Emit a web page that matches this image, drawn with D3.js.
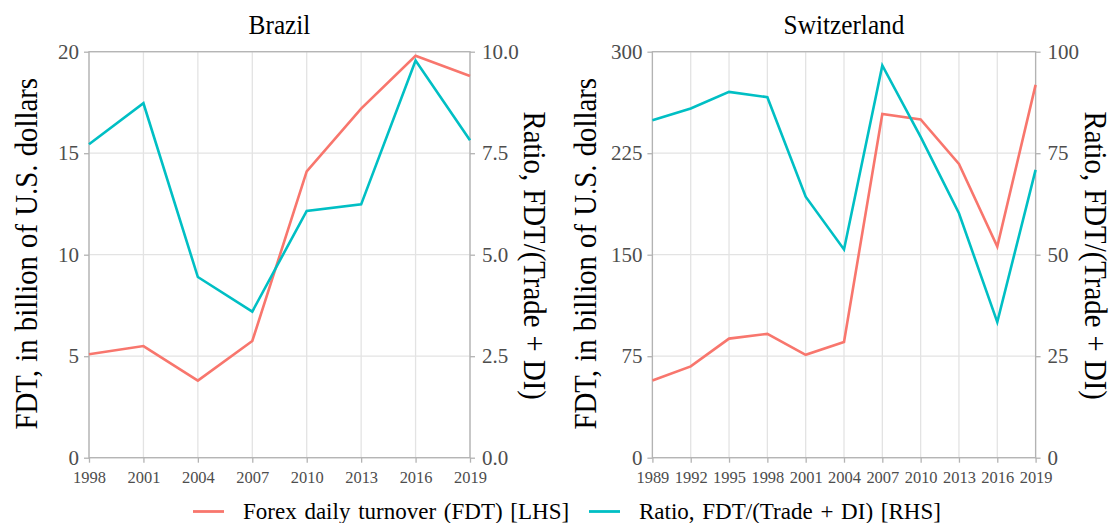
<!DOCTYPE html>
<html><head><meta charset="utf-8">
<script src="https://cdn.jsdelivr.net/npm/d3@7"></script>
<style>
body{margin:0;background:#fff;}
text{font-family:"Liberation Serif","DejaVu Serif",serif;}
</style></head>
<body><svg id="chart" width="1113" height="523"></svg>
<script>
// ---- data ----
const brazilYears = [1998, 2001, 2004, 2007, 2010, 2013, 2016, 2019];
const brazilFDT   = [5.1, 5.5, 3.8, 5.75, 14.1, 17.2, 19.8, 18.8];
const brazilRatio = [7.72, 8.73, 4.45, 3.6, 6.08, 6.24, 9.78, 7.82];
const swissYears  = [1989, 1992, 1995, 1998, 2001, 2004, 2007, 2010, 2013, 2016, 2019];
const swissFDT    = [57, 67.5, 88, 91.5, 76, 85.5, 254, 250, 217, 156, 275.5];
const swissRatio  = [83.1, 86, 90.1, 88.8, 64.3, 51.3, 96.6, 79, 60.2, 33.4, 70.9];
const brazilLeftTicks  = [0, 5, 10, 15, 20];
const brazilRightTicks = [0, 2.5, 5, 7.5, 10];
const swissLeftTicks   = [0, 75, 150, 225, 300];
const swissRightTicks  = [0, 25, 50, 75, 100];
const seriesNames = ["Forex daily turnover (FDT) [LHS]", "Ratio, FDT/(Trade + DI) [RHS]"];
const colors = ["#F8766D", "#00BFC4"];
const leftTitle = "FDT, in billion of U.S. dollars";
const rightTitle = "Ratio, FDT/(Trade + DI)";

const svg = d3.select("#chart");
const plotTop = 51.7, plotBottom = 457.7;
const FONT = '"Liberation Serif", serif';

function panel(o){
  const g = svg.append("g");
  const x = d3.scaleLinear().domain([o.years[0], o.years[o.years.length-1]]).range([o.left, o.right]);
  const yL = d3.scaleLinear().domain([0, o.leftTicks[o.leftTicks.length-1]]).range([plotBottom, plotTop]);
  const yR = d3.scaleLinear().domain([0, o.rightTicks[o.rightTicks.length-1]]).range([plotBottom, plotTop]);
  // grid
  g.append("g").selectAll("line").data(o.years).join("line")
    .attr("x1", d=>x(d)).attr("x2", d=>x(d)).attr("y1", plotTop).attr("y2", plotBottom)
    .attr("stroke", "#e3e3e3").attr("stroke-width", 1.3);
  g.append("g").selectAll("line").data(o.leftTicks).join("line")
    .attr("x1", o.left).attr("x2", o.right).attr("y1", d=>yL(d)).attr("y2", d=>yL(d))
    .attr("stroke", "#e3e3e3").attr("stroke-width", 1.3);
  // border
  g.append("rect").attr("x", o.left).attr("y", plotTop).attr("width", o.right-o.left).attr("height", plotBottom-plotTop)
    .attr("fill", "none").attr("stroke", "#b3b3b3").attr("stroke-width", 1.3);
  // axes
  const ax = g.append("g").attr("transform", `translate(0,${plotBottom})`)
    .call(d3.axisBottom(x).tickValues(o.years).tickFormat(d3.format("d")).tickSize(5).tickPadding(8));
  ax.selectAll("text").attr("font-size", 17.5).attr("fill", "#4d4d4d").style("font-family", FONT)
    .attr("transform", "scale(0.94,1)");
  const al = g.append("g").attr("transform", `translate(${o.left},0)`)
    .call(d3.axisLeft(yL).tickValues(o.leftTicks).tickFormat(o.leftFmt).tickSize(5).tickPadding(5));
  al.selectAll("text").attr("font-size", 21).attr("fill", "#4d4d4d").style("font-family", FONT);
  const ar = g.append("g").attr("transform", `translate(${o.right},0)`)
    .call(d3.axisRight(yR).tickValues(o.rightTicks).tickFormat(o.rightFmt).tickSize(5).tickPadding(7));
  ar.selectAll("text").attr("font-size", 21).attr("fill", "#4d4d4d").style("font-family", FONT);
  [ax, al, ar].forEach(a=>{ a.select(".domain").remove(); a.selectAll(".tick line").attr("stroke", "#b3b3b3").attr("stroke-width", 1.3); });
  // lines
  const lineL = d3.line().x((d,i)=>x(o.years[i])).y(d=>yL(d));
  const lineR = d3.line().x((d,i)=>x(o.years[i])).y(d=>yR(d));
  g.append("path").datum(o.fdt).attr("d", lineL).attr("fill", "none").attr("stroke", colors[0]).attr("stroke-width", 2.6);
  g.append("path").datum(o.ratio).attr("d", lineR).attr("fill", "none").attr("stroke", colors[1]).attr("stroke-width", 2.6);
  // titles
  g.append("text").attr("transform", `translate(${(o.left+o.right)/2},33.5) scale(0.92,1)`).attr("text-anchor", "middle")
    .attr("font-size", 27.5).attr("fill", "#000").text(o.title);
  g.append("text").attr("transform", `translate(${o.lt},${(plotTop+plotBottom)/2-1}) rotate(-90) scale(0.93,1)`).attr("text-anchor", "middle")
    .attr("font-size", 31).attr("fill", "#000").style("word-spacing", "1px").text(leftTitle);
  g.append("text").attr("transform", `translate(${o.rt},${(plotTop+plotBottom)/2+1}) rotate(90) scale(0.93,1)`).attr("text-anchor", "middle")
    .attr("font-size", 31).attr("fill", "#000").style("word-spacing", "1px").text(rightTitle);
}

panel({title:"Brazil", years:brazilYears, fdt:brazilFDT, ratio:brazilRatio, left:89, right:470,
  leftTicks:brazilLeftTicks, rightTicks:brazilRightTicks, leftFmt:d3.format("d"), rightFmt:d3.format(".1f"),
  lt:37, rt:524});
panel({title:"Switzerland", years:swissYears, fdt:swissFDT, ratio:swissRatio, left:652.4, right:1035.6,
  leftTicks:swissLeftTicks, rightTicks:swissRightTicks, leftFmt:d3.format("d"), rightFmt:d3.format("d"),
  lt:595.5, rt:1085});

// legend
const leg = svg.append("g");
const legX = [193, 589];
seriesNames.forEach((n,i)=>{
  leg.append("line").attr("x1", legX[i]).attr("x2", legX[i]+31).attr("y1", 511.5).attr("y2", 511.5)
    .attr("stroke", colors[i]).attr("stroke-width", 2.8);
  leg.append("text").attr("x", legX[i]+50).attr("y", 518.5).attr("font-size", 23).attr("fill", "#000")
    .style("word-spacing", "2px").text(n);
});
</script></body></html>
